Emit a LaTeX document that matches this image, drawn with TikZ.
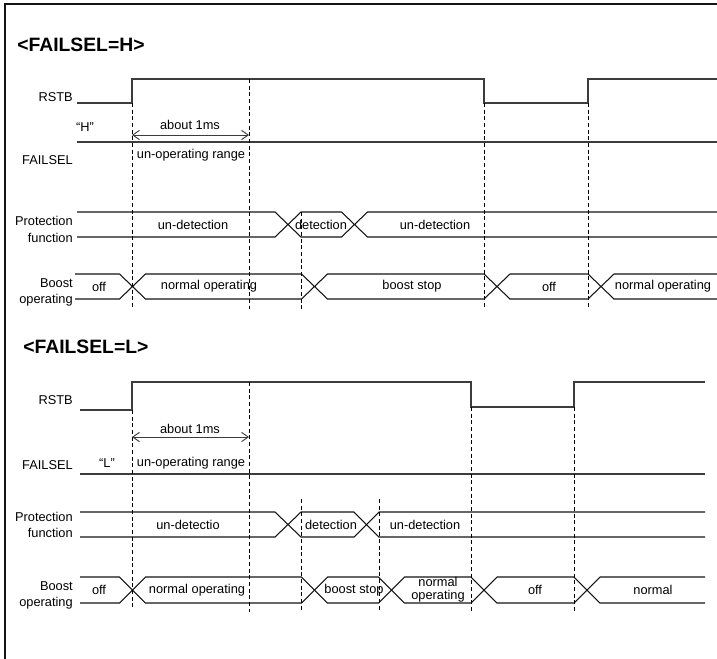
\documentclass[tikz,border=0pt]{standalone}
\usepackage{fontspec}
\setmainfont{Liberation Sans}
\usetikzlibrary{arrows.meta}
\definecolor{Wave}{HTML}{3C3C3C}
\definecolor{Ink}{HTML}{141414}

\begin{document}
\begin{tikzpicture}[x=0.75pt,y=-0.75pt,
  frame/.style={draw=Ink,line width=1.4pt},
  wave/.style={draw=Wave,line width=1pt},
  bus/.style={draw=Ink,line width=0.8pt},
  guide/.style={draw=black,dash pattern=on 3pt off 2pt,line width=0.6pt},
  sig/.style={anchor=east,align=right,font=\fontsize{9.6}{12.5}\selectfont,inner sep=0pt},
  phase/.style={font=\fontsize{9.6}{10}\selectfont,inner sep=0pt,align=center},
  heading/.style={anchor=west,font=\fontsize{14.5}{17}\bfseries\selectfont,inner sep=0pt},
  dur/.style={draw=Wave,line width=0.7pt,{Straight Barb[length=5pt,width=7pt]}-{Straight Barb[length=5pt,width=7pt]}}
]
\useasboundingbox (0,0) rectangle (717,658);
\draw[frame] (5,4) rectangle (740,680);

% FAILSEL=H
\node[heading] (titleH) at (17,45) {<FAILSEL=H>};
\node[sig] (rstbH) at (73,97) {RSTB};
\node[sig] (failselH) at (73,160) {FAILSEL};
\node[sig] (protH) at (73,229.5) {Protection\\function};
\node[sig] (boostH) at (73,292.5) {Boost\\operating};
\draw[wave] (77,103) -- (132,103) -- (132,79) -- (484,79) -- (484,103) -- (588,103) -- (588,79) -- (717,79);
\draw[wave] (77,142) -- (717,142);
\draw[bus] (77,212) -- (275,212) -- (288,224.5) -- (275,237) -- (77,237);
\draw[bus] (288,224.5) -- (301,212) -- (341.5,212) -- (354.5,224.5) -- (341.5,237) -- (301,237) -- cycle;
\draw[bus] (717,212) -- (367.5,212) -- (354.5,224.5) -- (367.5,237) -- (717,237);
\draw[bus] (75,274) -- (119.5,274) -- (132.5,286.5) -- (119.5,299) -- (75,299);
\foreach \a/\b in {132.5/314.5,314.5/497,497/601}
  \draw[bus] (\a,286.5) -- (\a+13,274) -- (\b-13,274) -- (\b,286.5) -- (\b-13,299) -- (\a+13,299) -- cycle;
\draw[bus] (717,274) -- (614,274) -- (601,286.5) -- (614,299) -- (717,299);
\foreach \x/\ya/\yb in {132/103/307,249/79/309,301/212/310,484/103/309,588/103/307}
  \draw[guide] (\x,\ya) -- (\x,\yb);
\coordinate (msH0) at (132,135);
\coordinate (msH1) at (249,135);
\draw[dur] (msH0) -- (msH1);
\node[phase] (aboutH) at (190,125) {about 1ms};
\node[phase] (levelH) at (85,127) {“H”};
\node[phase] (rangeH) at (191,155) {un-operating range};
\node[phase] (undetH) at (193,224.5) {un-detection};
\node[phase] (detH) at (321,224.5) {detection};
\node[phase] (redetH) at (435,224.5) {un-detection};
\node[phase] (offH) at (99,286.5) {off};
\node[phase] (normH) at (209,286.5) {normal operating};
\node[phase] (stopH) at (412,286.5) {boost stop};
\node[phase] (offH2) at (549,286.5) {off};
\node[phase] (normH2) at (663,286.5) {normal operating};

% FAILSEL=L
\node[heading] (titleL) at (23,347) {<FAILSEL=L>};
\node[sig] (rstbL) at (73,400) {RSTB};
\node[sig] (failselL) at (73,465) {FAILSEL};
\node[sig] (protL) at (73,525) {Protection\\function};
\node[sig] (boostL) at (73,595.5) {Boost\\operating};
\draw[wave] (80,410) -- (132,410) -- (132,382) -- (471,382) -- (471,407) -- (574,407) -- (574,382) -- (705,382);
\draw[wave] (80,474) -- (705,474);
\draw[bus] (80,512) -- (275,512) -- (288,524.5) -- (275,537) -- (80,537);
\draw[bus] (288,524.5) -- (301,512) -- (354,512) -- (366.5,524.5) -- (354,537) -- (301,537) -- cycle;
\draw[bus] (705,512) -- (379,512) -- (366.5,524.5) -- (379,537) -- (705,537);
\draw[bus] (80,577) -- (119.5,577) -- (132.5,590) -- (119.5,603) -- (80,603);
\foreach \a/\b in {132.5/314.5,314.5/391.5,391.5/484,484/587}
  \draw[bus] (\a,590) -- (\a+13,577) -- (\b-13,577) -- (\b,590) -- (\b-13,603) -- (\a+13,603) -- cycle;
\draw[bus] (705,577) -- (600,577) -- (587,590) -- (600,603) -- (705,603);
\foreach \x/\ya/\yb in {132/410/608,249/382/612,301/499/612,379/499/612,471/407/612,574/407/612}
  \draw[guide] (\x,\ya) -- (\x,\yb);
\coordinate (msL0) at (132,437);
\coordinate (msL1) at (249,437);
\draw[dur] (msL0) -- (msL1);
\node[phase] (aboutL) at (190,429) {about 1ms};
\node[phase] (levelL) at (107,463) {“L”};
\node[phase] (rangeL) at (191,463) {un-operating range};
\node[phase] (undetL) at (188,524.5) {un-detectio};
\node[phase] (detL) at (331,524.5) {detection};
\node[phase] (redetL) at (425,524.5) {un-detection};
\node[phase] (offL) at (99,590) {off};
\node[phase] (normL) at (197,590) {normal operating};
\node[phase] (stopL) at (354,590) {boost stop};
\node[phase] (normL2) at (438,590) {normal\\operating};
\node[phase] (offL2) at (535,590) {off};
\node[phase] (normL3) at (653,590) {normal};
\end{tikzpicture}
\end{document}
